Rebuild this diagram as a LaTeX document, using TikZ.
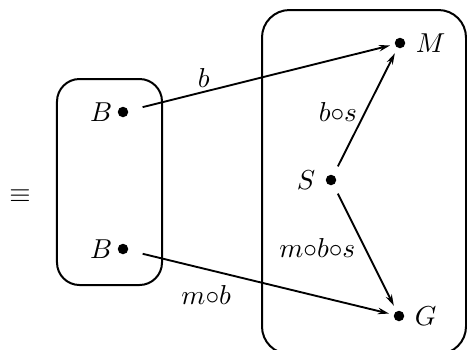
\documentclass[tikz,border=0pt]{standalone}
\usepackage{tikz}
\usetikzlibrary{positioning, arrows.meta, calc}

\tikzset{
  dot/.style={circle, fill=black, inner sep=0pt, minimum size=4.2pt, outer sep=1pt},
  grp/.style={draw, line width=0.8pt, inner sep=0pt},
  arr/.style={line width=0.75pt, -{Stealth[length=4.5pt, width=2.6pt]}},
  lbl/.style={inner sep=1pt}
}

\begin{document}
\begin{tikzpicture}[x=0.4pt, y=-0.4pt, font=\fontsize{11}{13}\selectfont]
    \clip (0,0) rectangle (467,349);
    \useasboundingbox (0,0) rectangle (467,349);

    % the two groups
    \node[grp, rounded corners=9pt, minimum width=42pt, minimum height=82.4pt] (left) at (109.5,182) {};
    \node[grp, rounded corners=11pt, minimum width=81.6pt, minimum height=137.6pt] (right) at (364,182) {};

    \node (eq) at (20,196) {$\equiv$};

    % points
    \node[dot] (b1) at (123,112) {};
    \node[dot] (b2) at (123,249) {};
    \node[dot] (m) at (400,43) {};
    \node[dot] (s) at (331,180) {};
    \node[dot] (g) at (399,316) {};

    \node[left=0pt of b1, inner sep=1pt] (b1t) {$B$};
    \node[left=0pt of b2, inner sep=1pt] (b2t) {$B$};
    \node[right=2pt of m, inner sep=1pt] (mt) {$M$};
    \node[right=2pt of g, inner sep=1pt] (gt) {$G$};
    \node[left=2pt of s, inner sep=1pt] (st) {$S$};

    % morphisms
    \draw[arr, shorten <=5pt, shorten >=1pt] (b1) -- (m) node[lbl, pos=.28, above=0.5pt] {$b$};
    \draw[arr, shorten <=5pt, shorten >=1pt] (b2) -- (g) node[lbl, pos=.29, below=5pt] {$m{\circ}b$};
    \draw[arr, shorten <=3pt, shorten >=1.5pt] (s) -- (m) node[lbl, pos=.5, left=2pt] {$b{\circ}s$};
    \draw[arr, shorten <=3pt, shorten >=1.5pt] (s) -- (g) node[lbl, pos=.5, left=2.5pt] {$m{\circ}b{\circ}s$};
  \end{tikzpicture}
\end{document}
